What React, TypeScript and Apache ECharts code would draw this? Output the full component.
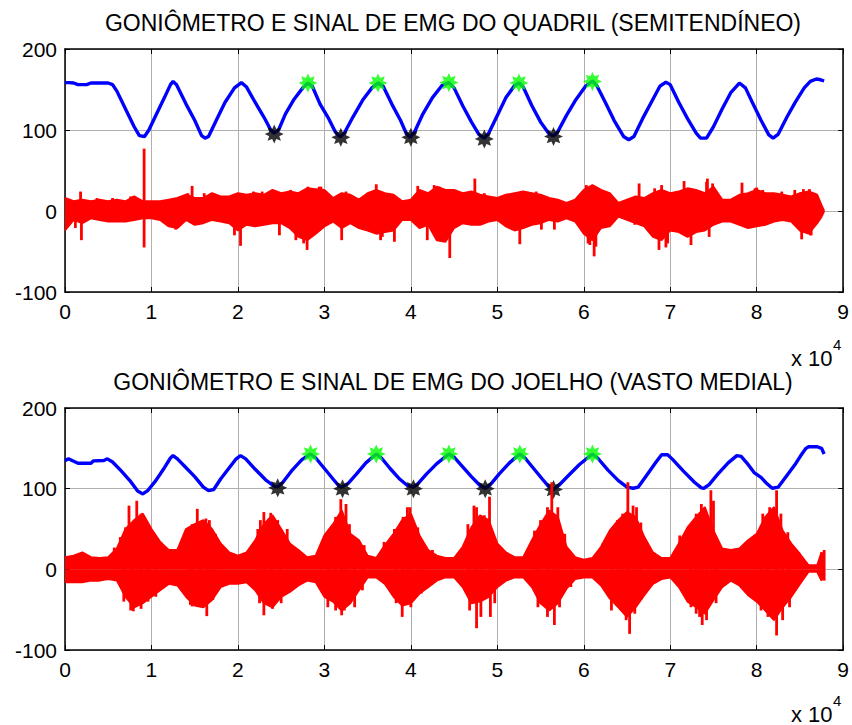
import React, { useEffect, useRef } from "react";
import * as echarts from "echarts";

// ---------- DATA (x in units of 10^4 samples) ----------
const xTicks = [0, 1, 2, 3, 4, 5, 6, 7, 8, 9];
const yTicks = [-100, 0, 100, 200];

const titleTop = "GONIÔMETRO E SINAL DE EMG DO QUADRIL (SEMITENDÍNEO)";
const titleBottom = "GONIÔMETRO E SINAL DE EMG DO JOELHO (VASTO MEDIAL)";

// Goniometer (blue) – hip
const gonioTopX = [0, 0.05, 0.1, 0.15, 0.25, 0.3, 0.5, 0.55, 0.6, 0.7, 0.8, 0.86, 0.92, 0.97, 1.05, 1.15, 1.22, 1.25, 1.29, 1.4, 1.5, 1.58, 1.62, 1.66, 1.75, 1.85, 1.96, 2.04, 2.1, 2.2, 2.3, 2.38, 2.42, 2.47, 2.55, 2.65, 2.75, 2.81, 2.86, 2.95, 3.05, 3.13, 3.18, 3.23, 3.33, 3.45, 3.55, 3.62, 3.68, 3.78, 3.88, 3.95, 3.99, 4.04, 4.14, 4.25, 4.36, 4.44, 4.5, 4.6, 4.7, 4.79, 4.85, 4.9, 5.0, 5.1, 5.2, 5.25, 5.3, 5.4, 5.5, 5.6, 5.65, 5.7, 5.8, 5.9, 6.02, 6.1, 6.15, 6.25, 6.35, 6.46, 6.52, 6.58, 6.68, 6.78, 6.88, 6.95, 7.0, 7.1, 7.2, 7.3, 7.35, 7.42, 7.5, 7.6, 7.7, 7.8, 7.87, 7.95, 8.05, 8.14, 8.19, 8.25, 8.35, 8.45, 8.55, 8.62, 8.69, 8.74, 8.78];
const gonioTopV = [158.5, 158.5, 158, 156, 156, 158, 158, 156, 148, 126, 104, 93, 92, 100, 118, 140, 156, 160, 156, 132, 112, 93, 90, 92, 112, 134, 152, 158.5, 153, 134, 116, 100, 96, 100, 120, 138, 152, 158, 154, 132, 114, 97, 91.5, 96, 116, 138, 152, 158, 154, 132, 112, 95, 91, 97, 120, 140, 155, 158.5, 152, 130, 110, 94, 90, 96, 118, 140, 155, 158, 153, 130, 110, 95, 92.5, 98, 118, 136, 154, 160.5, 155, 134, 112, 92, 88, 92, 114, 134, 154, 159, 156, 134, 114, 96, 90, 90, 104, 126, 146, 158, 152, 134, 112, 94, 90, 95, 116, 135, 152, 160, 163, 162, 160.5];

// Goniometer (blue) – knee
const gonioBotX = [0, 0.04, 0.1, 0.15, 0.3, 0.33, 0.45, 0.49, 0.55, 0.65, 0.75, 0.84, 0.9, 0.96, 1.05, 1.15, 1.22, 1.25, 1.3, 1.4, 1.5, 1.6, 1.66, 1.72, 1.8, 1.9, 1.98, 2.03, 2.09, 2.2, 2.32, 2.42, 2.46, 2.52, 2.62, 2.74, 2.84, 2.9, 3.0, 3.1, 3.17, 3.2, 3.27, 3.37, 3.48, 3.6, 3.66, 3.76, 3.86, 3.96, 4.03, 4.08, 4.18, 4.3, 4.44, 4.5, 4.6, 4.7, 4.8, 4.86, 4.92, 5.02, 5.14, 5.26, 5.32, 5.42, 5.52, 5.6, 5.65, 5.71, 5.82, 5.95, 6.1, 6.16, 6.28, 6.4, 6.5, 6.57, 6.63, 6.73, 6.83, 6.9, 6.97, 7.03, 7.15, 7.28, 7.36, 7.39, 7.45, 7.55, 7.67, 7.77, 7.82, 7.9, 7.97, 8.05, 8.12, 8.18, 8.25, 8.36, 8.45, 8.51, 8.57, 8.6, 8.7, 8.75, 8.78];
const gonioBotV = [134.7, 137, 134, 131.5, 131.5, 134.5, 135, 137, 133, 122, 110, 97, 93.5, 98, 110, 126, 138, 141, 137, 126, 115, 102, 97.6, 99, 112, 126, 137, 141, 137, 124, 111, 103, 102.5, 108, 122, 136, 143, 138, 125, 112, 103, 102, 106, 118, 132, 143, 138, 125, 113, 104, 102, 106, 118, 131, 143, 139, 127, 115, 104, 100.5, 105, 118, 132, 143, 138, 125, 112, 102, 99, 104, 116, 130, 143, 138, 123, 110, 102, 100.5, 102, 117, 132, 142, 142, 136, 122, 108, 101, 100.5, 105, 118, 132, 141, 140, 130, 120, 114, 106, 100.5, 102, 118, 131, 141, 150, 152, 152, 150, 143];

// Detected peaks (green) and troughs (black)
const peakTopX = [2.81, 3.62, 4.44, 5.25, 6.1];
const peakTopV = [158, 158, 158.5, 158, 160];
const troughTopX = [2.42, 3.19, 4.0, 4.85, 5.65];
const troughTopV = [95, 91, 91, 89, 92];
const peakBotX = [2.84, 3.6, 4.44, 5.26, 6.1];
const peakBotV = [143, 143, 143, 143, 143];
const troughBotX = [2.46, 3.21, 4.03, 4.86, 5.65];
const troughBotV = [101, 100, 100, 100, 99];

// EMG envelope sample positions
const emgX = [0, 0.1, 0.2, 0.3, 0.4, 0.5, 0.6, 0.7, 0.8, 0.9, 1.0, 1.1, 1.2, 1.3, 1.4, 1.5, 1.6, 1.7, 1.8, 1.9, 2.0, 2.1, 2.2, 2.3, 2.4, 2.5, 2.6, 2.7, 2.8, 2.9, 3.0, 3.1, 3.2, 3.3, 3.4, 3.5, 3.6, 3.7, 3.8, 3.9, 4.0, 4.1, 4.2, 4.3, 4.4, 4.5, 4.6, 4.7, 4.8, 4.9, 5.0, 5.1, 5.2, 5.3, 5.4, 5.5, 5.6, 5.7, 5.8, 5.9, 6.0, 6.1, 6.2, 6.3, 6.4, 6.5, 6.6, 6.7, 6.8, 6.9, 7.0, 7.1, 7.2, 7.3, 7.4, 7.5, 7.6, 7.7, 7.8, 7.9, 8.0, 8.1, 8.2, 8.3, 8.4, 8.5, 8.6, 8.7, 8.75, 8.78];

// EMG (red) – hip: upper / lower envelope
const emgTopHi = [16, 12, 14, 12, 14, 12, 14, 12, 18, 12, 12, 12, 14, 16, 20, 16, 16, 22, 18, 18, 22, 20, 22, 20, 26, 22, 24, 22, 28, 27, 26, 16, 22, 20, 14, 22, 26, 22, 20, 12, 14, 26, 22, 30, 26, 26, 22, 24, 20, 18, 16, 20, 22, 24, 22, 20, 16, 14, 10, 14, 26, 32, 26, 22, 10, 14, 18, 16, 22, 26, 22, 24, 28, 26, 22, 30, 14, 14, 20, 22, 26, 22, 22, 20, 18, 22, 24, 20, 7, 0];
const emgTopLo = [-24, -11, -15, -9, -11, -13, -13, -13, -11, -9, -9, -11, -19, -21, -11, -17, -15, -11, -13, -15, -24, -17, -19, -17, -15, -15, -21, -32, -36, -28, -19, -13, -21, -15, -21, -24, -28, -26, -24, -11, -11, -21, -17, -36, -38, -21, -15, -17, -17, -13, -11, -19, -24, -21, -17, -15, -11, -13, -9, -13, -28, -36, -21, -19, -7, -11, -15, -19, -32, -36, -24, -26, -32, -26, -24, -17, -13, -13, -17, -21, -19, -17, -13, -11, -13, -24, -28, -15, -7, 0];
// individual EMG spikes [x, value] – hip
const spikesTop = [
  [0.12, -21], [0.18, 24], [0.19, -36], [0.37, 16], [0.55, 16], [0.76, 18], [0.915, 77], [0.915, -45], [1.28, -23], [1.42, 22],
  [1.47, 31], [1.61, 22], [1.72, 22], [1.96, -30], [2.03, -43], [2.05, 22], [2.18, 24], [2.28, 24], [2.39, 26], [2.48, -30],
  [2.61, 26], [2.67, -36], [2.76, -40], [2.8, -48], [2.81, 30], [2.94, 30], [2.96, 30], [3.2, -36], [3.25, 24], [3.6, 33],
  [3.65, -36], [3.67, -32], [3.75, 22], [3.81, -38], [4.08, 31], [4.19, -36], [4.27, 32], [4.33, 30], [4.37, -36], [4.45, -58],
  [4.5, 24], [4.62, 22], [4.74, 40], [4.85, 22], [5.26, -41], [5.27, 24], [5.45, 24], [5.51, -23], [5.66, -23], [6.03, 32],
  [6.05, -40], [6.07, -42], [6.12, -56], [6.14, -44], [6.2, 26], [6.59, -17], [6.64, 34], [6.82, 28], [6.87, -48], [6.9, 32],
  [6.95, -45], [6.97, -40], [7.1, 22], [7.12, -24], [7.16, 37], [7.2, -32], [7.24, -42], [7.42, 36], [7.43, 40], [7.45, -32],
  [7.49, 34], [7.83, 35], [7.98, 28], [8.0, 29], [8.07, 26], [8.19, 22], [8.29, 24], [8.44, 26], [8.52, -35], [8.54, 27],
  [8.61, 27], [8.62, -30], [8.63, -30],
];

// EMG (red) – knee: upper / lower envelope
const emgBotHi = [15, 17, 21, 15, 14, 15, 26, 50, 61, 69, 50, 34, 24, 24, 50, 56, 61, 50, 32, 21, 17, 21, 36, 56, 67, 50, 32, 24, 15, 17, 42, 56, 73, 44, 36, 17, 14, 30, 44, 61, 69, 42, 24, 17, 14, 14, 28, 52, 67, 61, 32, 21, 15, 15, 36, 56, 73, 65, 28, 15, 12, 14, 28, 48, 61, 71, 65, 40, 21, 14, 14, 32, 52, 65, 77, 48, 26, 24, 26, 36, 44, 65, 77, 48, 32, 19, 5, 5, 21, 0];
const emgBotLo = [-16, -16, -16, -14, -14, -12, -14, -34, -47, -42, -34, -26, -18, -20, -34, -45, -47, -38, -22, -18, -18, -16, -26, -42, -47, -34, -28, -20, -14, -16, -34, -40, -51, -42, -26, -10, -10, -18, -34, -45, -42, -30, -22, -14, -10, -10, -22, -42, -40, -34, -22, -14, -10, -10, -22, -42, -51, -42, -24, -12, -10, -10, -20, -36, -47, -59, -47, -32, -18, -12, -10, -22, -40, -47, -55, -38, -22, -14, -20, -32, -40, -51, -63, -47, -34, -18, -3, -3, -14, 0];
// individual EMG spikes [x, value] – knee
const spikesBot = [
  [0.1, 17], [0.2, 21], [0.57, 27], [0.64, 40], [0.68, -40], [0.7, 52], [0.74, 79], [0.76, -51], [0.79, -52], [0.83, 85],
  [0.88, 69], [0.88, -49], [0.93, 50], [0.96, -40], [0.97, 48], [1.05, -34], [1.11, 34], [1.42, 50], [1.45, -44], [1.47, 56],
  [1.47, -46], [1.53, 75], [1.57, -44], [1.59, 61], [1.63, 63], [1.64, -58], [1.67, 61], [1.71, -38], [1.74, 44], [1.84, 24],
  [2.23, 50], [2.25, -42], [2.26, 61], [2.3, 71], [2.3, -57], [2.36, 63], [2.38, 70], [2.4, -49], [2.46, 61], [2.5, -42],
  [2.57, 50], [2.67, 21], [2.96, 24], [3.04, -47], [3.08, 48], [3.13, 65], [3.13, -51], [3.19, 87], [3.2, -57], [3.23, -51],
  [3.25, 81], [3.29, 56], [3.35, 40], [3.35, -47], [3.44, -26], [3.46, 30], [3.69, 34], [3.81, 50], [3.83, -42], [3.9, -59],
  [3.91, 65], [3.96, 77], [3.99, 77], [4.0, -47], [4.08, 52], [4.12, -30], [4.16, 24], [4.25, 24], [4.66, 56], [4.68, -51],
  [4.73, 79], [4.76, 77], [4.76, -73], [4.81, -59], [4.85, 67], [4.91, 90], [4.92, -59], [4.97, 40], [4.97, -42], [5.08, 15],
  [5.43, 48], [5.47, -47], [5.5, 61], [5.58, 77], [5.58, -59], [5.63, 108], [5.66, -69], [5.7, 77], [5.72, -47], [5.78, 44],
  [5.85, -22], [6.22, 32], [6.32, -51], [6.33, 50], [6.39, 61], [6.43, -47], [6.45, 69], [6.49, -63], [6.51, 108], [6.53, -80],
  [6.57, 79], [6.59, -55], [6.61, 77], [6.66, 58], [6.66, -38], [6.76, 28], [7.11, 42], [7.2, 50], [7.24, -47], [7.3, 69],
  [7.3, -55], [7.34, -59], [7.36, 81], [7.37, -69], [7.42, -63], [7.47, 98], [7.5, 85], [7.53, 40], [7.53, -42], [7.7, 25],
  [7.78, 25], [7.9, 34], [7.97, 40], [8.05, -51], [8.07, 69], [8.13, -59], [8.15, 77], [8.23, 98], [8.23, -82], [8.28, 69],
  [8.3, -63], [8.36, 46], [8.38, -47], [8.48, 7], [8.75, 21], [8.78, 24], [8.78, -14],
];

// ---------- STYLE ----------
const FONT = '"Liberation Sans", Arial, Helvetica, sans-serif';
const BLUE = "#0000ff";
const RED = "#ff0000";
const GREEN = "#00ff00";
const STAR =
  "path://M10,0 L5.3,2.2 L7.07,7.07 L2.2,5.3 L0,10 L-2.2,5.3 L-7.07,7.07 L-5.3,2.2 L-10,0 L-5.3,-2.2 L-7.07,-7.07 L-2.2,-5.3 L0,-10 L2.2,-5.3 L7.07,-7.07 L5.3,-2.2 Z";

const zip = (xs: number[], vs: number[]) => xs.map((x, i) => [x, vs[i]]);

const GRIDS = [
  { left: 65, top: 49, width: 779, height: 243 },
  { left: 65, top: 408, width: 779, height: 242 },
];

function axesFor(g: number) {
  const tick = { show: true, inside: true, length: 5, lineStyle: { color: "#000", width: 1 } };
  const line = { show: true, onZero: false, lineStyle: { color: "#000", width: 1.5 } };
  const label = { color: "#000", fontSize: 21, fontFamily: FONT };
  const split = { show: true, lineStyle: { color: "#b0b0b0", width: 1 } };
  const xMain = {
    type: "value", gridIndex: g, position: "bottom", min: xTicks[0], max: xTicks[xTicks.length - 1], interval: 1,
    axisLine: line, axisTick: tick, axisLabel: { ...label, margin: 9 }, splitLine: split,
  };
  const xTop = {
    type: "value", gridIndex: g, position: "top", min: xTicks[0], max: xTicks[xTicks.length - 1], interval: 1,
    axisLine: line, axisTick: tick, axisLabel: { show: false }, splitLine: { show: false },
  };
  const yMain = {
    type: "value", gridIndex: g, position: "left", min: yTicks[0], max: yTicks[yTicks.length - 1], interval: 100,
    axisLine: line, axisTick: tick, axisLabel: { ...label, margin: 8 }, splitLine: split,
  };
  const yRight = {
    type: "value", gridIndex: g, position: "right", min: yTicks[0], max: yTicks[yTicks.length - 1], interval: 100,
    axisLine: line, axisTick: tick, axisLabel: { show: false }, splitLine: { show: false },
  };
  return { x: [xMain, xTop], y: [yMain, yRight] };
}

function panelSeries(
  g: number,
  gx: number[], gv: number[],
  px: number[], pv: number[],
  tx: number[], tv: number[],
  hi: number[], lo: number[],
  spikes: number[][]
) {
  const ax = { xAxisIndex: g * 2, yAxisIndex: g * 2 };
  const emgLine = (vals: number[]) => ({
    type: "line", ...ax, data: zip(emgX, vals), showSymbol: false, symbol: "none",
    lineStyle: { color: RED, width: 2 }, areaStyle: { color: RED, opacity: 1 }, z: 5, silent: true,
  });
  return [
    {
      type: "line", ...ax, data: zip(gx, gv), showSymbol: false, symbol: "none",
      lineStyle: { color: BLUE, width: 3.4 }, z: 2, silent: true,
    },
    {
      type: "scatter", ...ax, data: zip(px, pv), symbol: STAR, symbolSize: 19,
      itemStyle: { color: GREEN }, z: 3, silent: true,
    },
    {
      type: "scatter", ...ax, data: zip(tx, tv), symbol: STAR, symbolSize: 19,
      itemStyle: { color: "#000" }, z: 3, silent: true,
    },
    emgLine(hi),
    emgLine(lo),
    {
      type: "custom", ...ax, coordinateSystem: "cartesian2d", data: spikes, z: 5, silent: true,
      renderItem: (_p: any, api: any) => {
        const x = api.value(0);
        const v = api.value(1);
        const a = api.coord([x, 0]);
        const b = api.coord([x, v]);
        return {
          type: "line",
          shape: { x1: a[0], y1: a[1], x2: b[0], y2: b[1] },
          style: { stroke: RED, lineWidth: 2.8 },
        };
      },
    },
  ];
}

export default function App() {
  const ref = useRef<HTMLDivElement>(null);
  useEffect(() => {
    if (!ref.current) return;
    const chart = echarts.init(ref.current, undefined, { renderer: "svg" });
    const a0 = axesFor(0);
    const a1 = axesFor(1);
    const titleStyle = { fill: "#000", fontSize: 23, fontFamily: FONT, textAlign: "center", textVerticalAlign: "middle" };
    const expStyle = { fill: "#000", fontSize: 22, fontFamily: FONT, textAlign: "left", textVerticalAlign: "middle" };
    const supStyle = { fill: "#000", fontSize: 15, fontFamily: FONT, textAlign: "left", textVerticalAlign: "middle" };
    chart.setOption({
      animation: false,
      backgroundColor: "#ffffff",
      grid: GRIDS,
      xAxis: [...a0.x, ...a1.x],
      yAxis: [...a0.y, ...a1.y],
      series: [
        ...panelSeries(0, gonioTopX, gonioTopV, peakTopX, peakTopV, troughTopX, troughTopV, emgTopHi, emgTopLo, spikesTop),
        ...panelSeries(1, gonioBotX, gonioBotV, peakBotX, peakBotV, troughBotX, troughBotV, emgBotHi, emgBotLo, spikesBot),
      ],
      graphic: [
        { type: "text", x: 453, y: 23, style: { ...titleStyle, text: titleTop } },
        { type: "text", x: 453, y: 382, style: { ...titleStyle, text: titleBottom } },
        { type: "text", x: 791, y: 358, style: { ...expStyle, text: "x 10" } },
        { type: "text", x: 833, y: 344, style: { ...supStyle, text: "4" } },
        { type: "text", x: 791, y: 714, style: { ...expStyle, text: "x 10" } },
        { type: "text", x: 833, y: 700, style: { ...supStyle, text: "4" } },
      ],
    });
    return () => chart.dispose();
  }, []);
  return (
    <div
      ref={ref}
      style={{ position: "absolute", left: 0, top: 0, width: 852, height: 725, background: "#fff" }}
    />
  );
}
